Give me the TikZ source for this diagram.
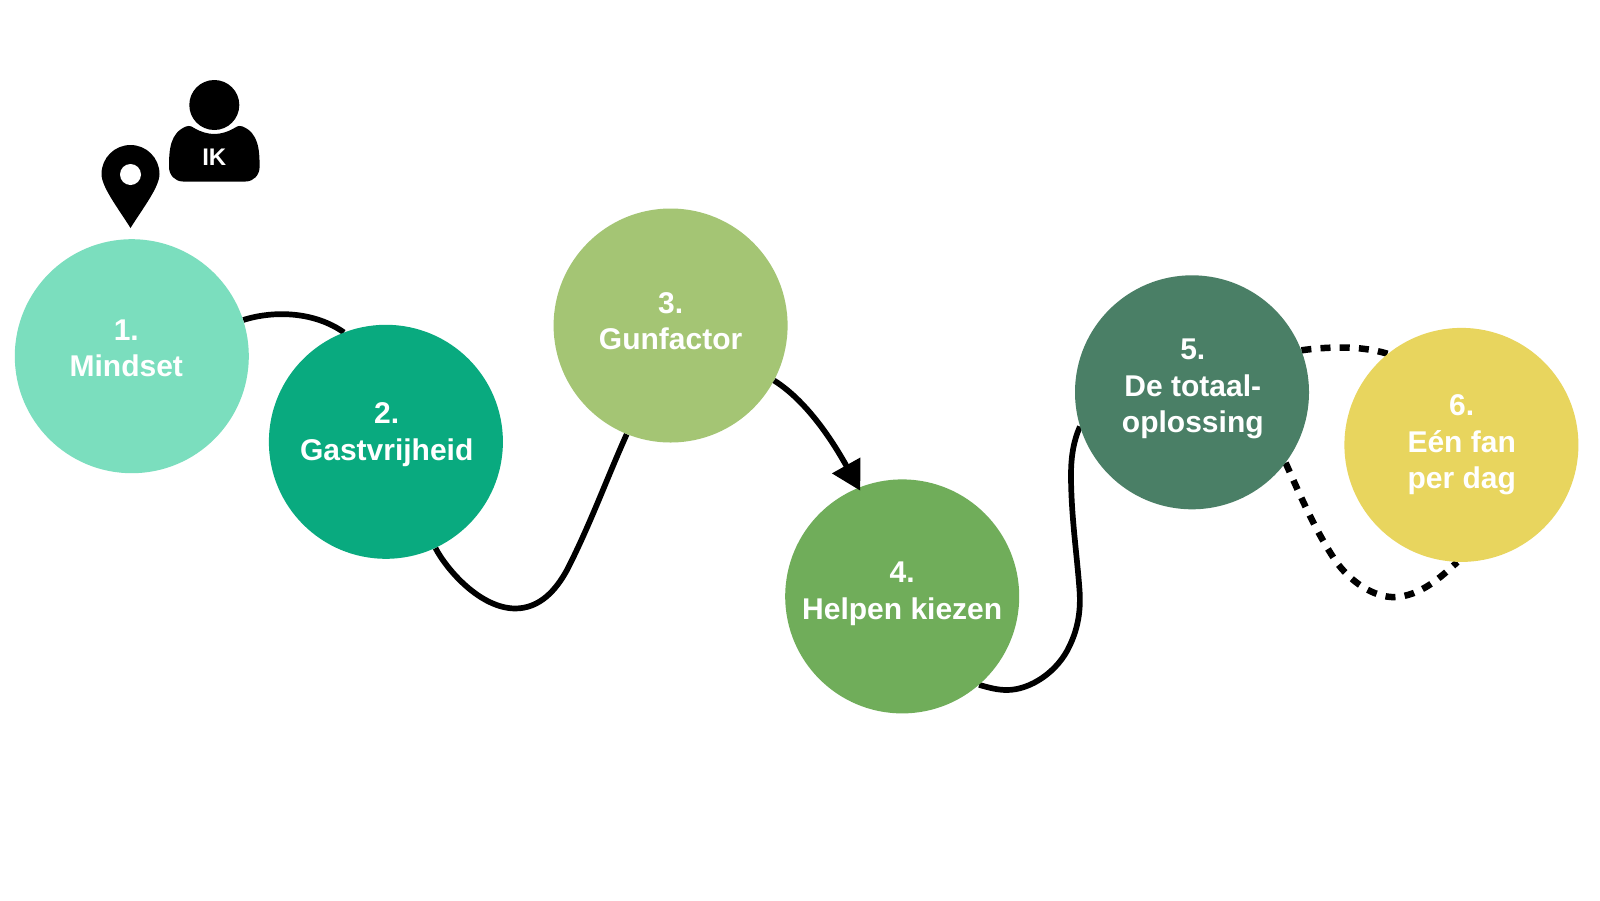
\documentclass[tikz,border=0pt]{standalone}
\usepackage{fontspec}
\setmainfont{Liberation Sans}
\usetikzlibrary{arrows.meta,backgrounds,calc}
\definecolor{cA}{HTML}{7BDEBE}
\definecolor{cB}{HTML}{09AA7F}
\definecolor{cC}{HTML}{A4C574}
\definecolor{cD}{HTML}{70AD5A}
\definecolor{cE}{HTML}{4A7F66}
\definecolor{cF}{HTML}{E8D55E}
\tikzset{
  stage/.style={circle,draw=none,inner sep=0pt,minimum size=234pt},
  stagetext/.style={text=white,align=center,font=\fontsize{30}{36.5}\selectfont\bfseries,inner sep=0pt},
  link/.style={draw=black,line width=5.7pt},
  dotted link/.style={draw=black,line width=6.5pt,dash pattern=on 10pt off 9.2pt},
  icon/.style={fill=black,draw=none}
}
\begin{document}
\begin{tikzpicture}[x=1pt,y=-1pt]
\useasboundingbox (0,0) rectangle (1600,900);
\node[stage,fill=cA] (c1) at (131.8,356.2) {};
\node[stage,fill=cB] (c2) at (385.9,441.8) {};
\node[stage,fill=cC] (c3) at (670.6,325.5) {};
\node[stage,fill=cD] (c4) at (902.2,596.4) {};
\node[stage,fill=cE] (c5) at (1192,392.3) {};
\node[stage,fill=cF] (c6) at (1461.4,444.9) {};
\node[stagetext] (t1) at ($(c1)+(-5.5,-8)$) {1.\\Mindset};
\node[stagetext] (t2) at ($(c2)+(0.8,-7)$) {2.\\Gastvrijheid};
\node[stagetext] (t3) at ($(c3)+(0,-4.5)$) {3.\\Gunfactor};
\node[stagetext] (t4) at ($(c4)+(0,-2.5)$) {4.\\Helpen kiezen};
\node[stagetext] (t5) at ($(c5)+(0.8,-3)$) {5.\\De totaal-\\oplossing};
\node[stagetext] (t6) at ($(c6)+(0.3,0)$) {6.\\Eén fan\\per dag};
\begin{scope}[on background layer]
\fill[white] (0,0) rectangle (1600,900);
\draw[link] (c1.18) .. controls (275,310) and (315,312) .. (c2.111);
\draw[link] (c2.-65) .. controls (447,570) and (480,608) .. (515,608.5) .. controls (540,608.5) and (556,590) .. (567,570) .. controls (590,525) and (607,478) .. (c3.-112);
\draw[link] (c4.-49) .. controls (990,688) and (998,690) .. (1007,690) .. controls (1030,690) and (1058,672) .. (1070,645) .. controls (1078,628) and (1081,610) .. (1079.5,590) .. controls (1077,555) and (1071,515) .. (1071,475) .. controls (1071,455) and (1074,440) .. (c5.197);
\draw[dotted link] (c5.21.5) .. controls (1325,347) and (1360,345) .. (c6.129);
\draw[dotted link] (c5.-37) .. controls (1300,495) and (1315,530) .. (1335,560) .. controls (1350,582) and (1375,598) .. (1395,597) .. controls (1420,596) and (1440,578) .. (c6.268);
\end{scope}
\draw[link,-{Triangle[length=29pt,width=31pt]}] (c3.-28) .. controls (810,403) and (837,449) .. ($(c4.112)+(2,3)$);
% location pin
\fill[icon] (130.5,228) .. controls (118,208) and (101.5,187) .. (101.5,174) .. controls (101.5,158) and (114.5,145) .. (130.5,145) .. controls (146.5,145) and (159.5,158) .. (159.5,174) .. controls (159.5,187) and (143,208) .. (130.5,228) -- cycle;
\fill[white] (130.5,174.5) circle[radius=10.5];
% person
\fill[icon] (214.3,105) circle[radius=25];
\fill[icon] (183,181.5) .. controls (175,181.5) and (169,175) .. (169,167) .. controls (169,150) and (170,133) .. (186,126.5) .. controls (190,125) and (193,127) .. (195,128.5) .. controls (201,132) and (208,134) .. (214.3,134) .. controls (220.6,134) and (227.6,132) .. (233.6,128.5) .. controls (235.6,127) and (238.6,125) .. (242.6,126.5) .. controls (258.6,133) and (259.6,150) .. (259.6,167) .. controls (259.6,175) and (253.6,181.5) .. (245.6,181.5) -- cycle;
\node[text=white,inner sep=0pt,font=\fontsize{24}{24}\selectfont\bfseries] (ik) at (214.3,157) {IK};
\end{tikzpicture}
\end{document}
